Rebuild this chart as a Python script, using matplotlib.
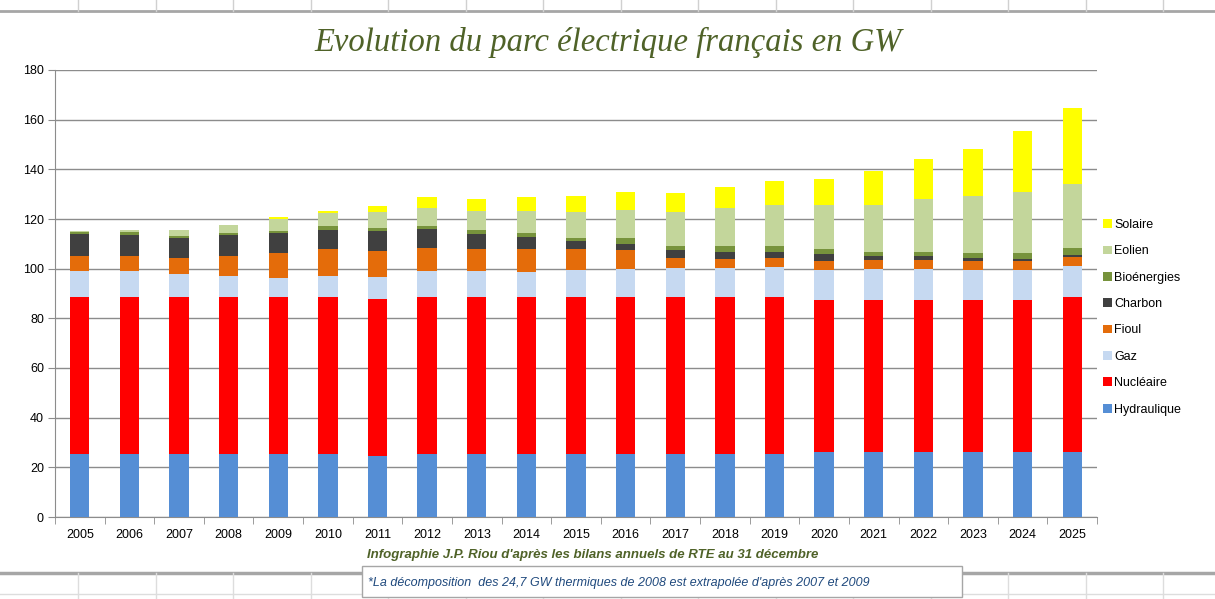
import numpy as np
import matplotlib.pyplot as plt
from matplotlib.patches import Rectangle
from matplotlib.lines import Line2D

annees = [str(a) for a in range(2005, 2026)]

hydraulique = [25.4, 25.4, 25.4, 25.4, 25.4, 25.4, 24.5, 25.4, 25.4, 25.4, 25.4,
               25.4, 25.4, 25.4, 25.5, 26.0, 26.0, 26.0, 26.0, 26.0, 26.0]
nucleaire = [63.0, 63.0, 63.0, 63.0, 63.0, 63.0, 63.1, 63.1, 63.1, 63.1, 63.1,
             63.1, 63.1, 63.1, 63.1, 61.2, 61.2, 61.2, 61.2, 61.2, 62.7]
gaz = [10.5, 10.5, 9.6, 8.7, 7.9, 8.7, 8.9, 10.6, 10.6, 10.0, 11.1,
       11.4, 11.7, 11.7, 12.2, 12.4, 12.8, 12.8, 12.4, 12.4, 12.2]
fioul = [6.2, 6.2, 6.4, 8.2, 10.1, 10.7, 10.7, 9.1, 8.7, 9.3, 8.2,
         7.5, 4.2, 3.7, 3.6, 3.3, 3.3, 3.3, 3.3, 3.3, 3.6]
charbon = [8.9, 8.3, 7.9, 8.1, 7.9, 7.7, 7.9, 7.9, 6.0, 4.9, 3.3,
           2.5, 3.0, 2.9, 2.4, 3.1, 1.9, 1.6, 1.4, 1.1, 1.1]
bioenergies = [0.8, 1.2, 0.8, 0.8, 0.8, 1.5, 1.3, 1.2, 1.9, 1.5, 1.1,
               2.3, 1.6, 2.2, 2.4, 2.0, 1.7, 2.0, 2.2, 2.5, 2.8]
eolien = [0.4, 0.9, 2.5, 3.3, 5.0, 5.6, 6.3, 7.3, 7.7, 9.2, 10.7,
          11.6, 13.9, 15.4, 16.4, 17.7, 18.8, 21.3, 22.7, 24.4, 25.6]
solaire = [0.0, 0.0, 0.0, 0.0, 0.6, 0.5, 2.7, 4.1, 4.7, 5.3, 6.2,
           7.1, 7.5, 8.3, 9.6, 10.6, 13.7, 15.9, 18.9, 24.7, 30.7]

series = [
    ("Hydraulique", hydraulique, "#558ED5"),
    ("Nucléaire", nucleaire, "#FF0000"),
    ("Gaz", gaz, "#C6D9F1"),
    ("Fioul", fioul, "#E46C0A"),
    ("Charbon", charbon, "#404040"),
    ("Bioénergies", bioenergies, "#77933C"),
    ("Eolien", eolien, "#C3D69B"),
    ("Solaire", solaire, "#FFFF00"),
]

plt.rcParams['font.family'] = ['Liberation Sans Narrow', 'Liberation Sans', 'DejaVu Sans']

W, H = 1215, 599
fig = plt.figure(figsize=(W / 100, H / 100), dpi=100)
ax = fig.add_axes([55 / W, 1 - 517 / H, (1097 - 55) / W, (517 - 70) / H])

x = np.arange(len(annees))
bas = np.zeros(len(annees))
handles = []
for nom, vals, couleur in series:
    b = ax.bar(x, vals, width=0.39, bottom=bas, color=couleur, label=nom, zorder=3)
    bas += np.array(vals)
    handles.append(b)

ax.set_xlim(-0.5, len(annees) - 0.5)
ax.set_ylim(0, 180)
ax.set_yticks(range(0, 181, 20))
ax.yaxis.grid(True, color="#8c8c8c", linewidth=1.0, zorder=0)
ax.set_xticks(x)
ax.set_xticklabels(annees, fontsize=9)
ax.set_xticks(np.arange(-0.5, len(annees), 1), minor=True)
ax.tick_params(axis='x', which='major', length=0, pad=9)
ax.tick_params(axis='x', which='minor', length=5, color="#8c8c8c", direction='out')
ax.tick_params(axis='y', length=5, color="#8c8c8c", labelsize=9, pad=3)
for s in ['top', 'right']:
    ax.spines[s].set_visible(False)
for s in ['left', 'bottom']:
    ax.spines[s].set_color("#8c8c8c")

leg = ax.legend(handles[::-1], [s[0] for s in series][::-1], loc='center left',
                bbox_to_anchor=(0.995, 0.447), frameon=False, fontsize=9,
                handlelength=0.7, handleheight=0.7, handletextpad=0.2,
                labelspacing=1.15)

fig.text(608 / W, 1 - 42 / H, "Evolution du parc électrique français en GW",
         family='Liberation Serif', style='italic', fontsize=23.5,
         color="#4F6228", ha='center', va='center')
fig.text(593 / W, 1 - 555 / H,
         "Infographie J.P. Riou d'après les bilans annuels de RTE au 31 décembre",
         style='italic', weight='bold', fontsize=9.5, color="#4F6228",
         ha='center', va='center')

# decor tableur
fig.add_artist(Line2D([0, 1], [1 - 11 / H, 1 - 11 / H], color="#a6a6a6", linewidth=2))
fig.add_artist(Line2D([0, 1], [1 - 573 / H, 1 - 573 / H], color="#a6a6a6", linewidth=2.5))
fig.add_artist(Line2D([0, 1], [1 - 594 / H, 1 - 594 / H], color="#dddddd", linewidth=1))
for k in range(15):
    xc = (78 + 77.5 * k) / W
    fig.add_artist(Line2D([xc, xc], [1, 1 - 11 / H], color="#d0d0d0", linewidth=1))
    fig.add_artist(Line2D([xc, xc], [1 - 573 / H, 0], color="#dddddd", linewidth=1))

fig.add_artist(Rectangle((362 / W, 1 - 597 / H), 600 / W, 31 / H,
                         transform=fig.transFigure, facecolor='white',
                         edgecolor="#a6a6a6", linewidth=1, zorder=5))
fig.text(368 / W, 1 - 583 / H,
         "*La décomposition  des 24,7 GW thermiques de 2008 est extrapolée d'après 2007 et 2009",
         style='italic', fontsize=9, color="#1F497D", ha='left', va='center', zorder=6)

fig.savefig("out.png", dpi=100)
